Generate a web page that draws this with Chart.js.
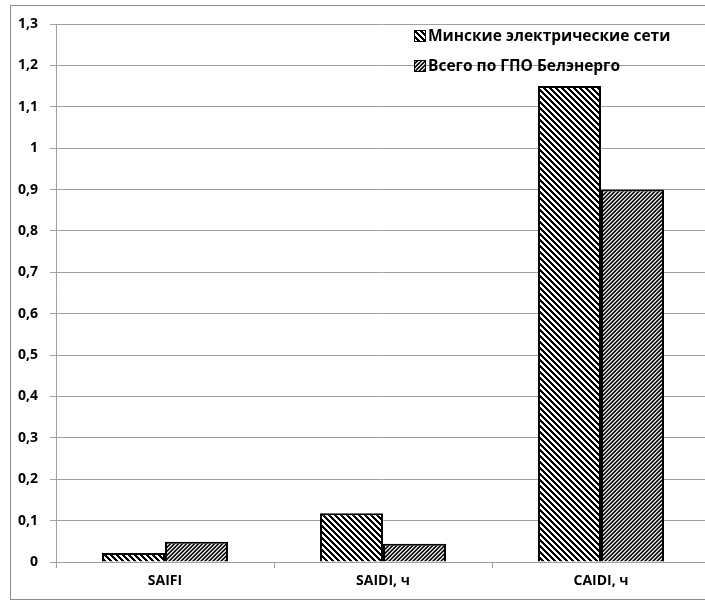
<!DOCTYPE html>
<html>
<head>
<meta charset="utf-8">
<script src="https://cdn.jsdelivr.net/npm/chart.js@4/dist/chart.umd.min.js"></script>
<style>
  html, body { margin: 0; padding: 0; background: #fff; overflow: hidden; width: 705px; height: 601px; }
  #frame { position: absolute; left: 10px; top: 5px; border: 1px solid #8c8c8c; width: 700px; height: 593px; }
  canvas { display: block; }
</style>
</head>
<body>
<div id="frame"><canvas id="c" width="700" height="593"></canvas></div>
<script>
// Reliability indices: categories and series
const categories = ['SAIFI', 'SAIDI, ч', 'CAIDI, ч'];
const seriesNames = ['Минские электрические сети', 'Всего по ГПО Белэнерго'];
const minskValues = [0.022, 0.118, 1.15];
const belenergoValues = [0.049, 0.044, 0.90];
const yMin = 0, yMax = 1.3, yStep = 0.1;

const FONT = '"Open Sans", Lato, "Liberation Sans", sans-serif';

// Hatch fills built from small pixel tiles
function makeTile(size, colorAt) {
  const t = document.createElement('canvas');
  t.width = size; t.height = size;
  const g = t.getContext('2d');
  for (let y = 0; y < size; y++) {
    for (let x = 0; x < size; x++) {
      g.fillStyle = colorAt(x, y);
      g.fillRect(x, y, 1, 1);
    }
  }
  return t;
}
const ctx = document.getElementById('c').getContext('2d');
// wide downward diagonal "\\\\"
const downTile = makeTile(6, (x, y) => (((x - y) % 6 + 6) % 6) < 3 ? '#000' : '#fff');
// dense upward diagonal "////"
const upTile = makeTile(4, (x, y) => {
  const k = (x + y) % 4;
  return k === 0 ? '#000' : k === 1 ? '#333' : k === 2 ? '#eee' : '#999';
});
const downPattern = ctx.createPattern(downTile, 'repeat');
const upPattern = ctx.createPattern(upTile, 'repeat');

function fmt(v) {
  const r = Math.round(v * 10) / 10;
  return String(r).replace('.', ',');
}

// Legend drawn inside the plot area, over the gridlines
const insideLegend = {
  id: 'insideLegend',
  afterDraw(chart) {
    const g = chart.ctx;
    const x0 = 403, rows = [30, 60];
    chart.data.datasets.forEach((ds, i) => {
      const y = rows[i];
      g.save();
      g.fillStyle = '#fff';
      g.fillRect(x0, y - 6, 12, 12);
      g.fillStyle = ds.backgroundColor;
      g.fillRect(x0, y - 6, 12, 12);
      g.strokeStyle = '#000';
      g.lineWidth = 1;
      g.strokeRect(x0 + 0.5, y - 5.5, 11, 11);
      g.fillStyle = '#000';
      g.font = 'bold 15.5px ' + FONT;
      g.textBaseline = 'middle';
      g.textAlign = 'left';
      g.fillText(ds.label, x0 + 14, y + 1);
      g.restore();
    });
  }
};

new Chart(ctx, {
  type: 'bar',
  data: {
    labels: categories,
    datasets: [
      { label: seriesNames[0], data: minskValues, backgroundColor: downPattern,
        borderColor: '#000', borderWidth: 2 },
      { label: seriesNames[1], data: belenergoValues, backgroundColor: upPattern,
        borderColor: '#000', borderWidth: 2 }
    ]
  },
  options: {
    responsive: false,
    animation: false,
    devicePixelRatio: 1,
    layout: { padding: { top: 18, right: 1, left: 0, bottom: 0 } },
    datasets: { bar: { categoryPercentage: 0.578, barPercentage: 1.0 } },
    plugins: { legend: { display: false }, tooltip: { enabled: false } },
    scales: {
      x: {
        grid: { offset: true, drawOnChartArea: false, color: '#a0a0a0', tickLength: 6 },
        border: { color: '#a0a0a0' },
        ticks: { color: '#000', font: { family: FONT, size: 14, weight: 'bold' }, padding: 5 },
        afterFit(s) { s.height = 37; }
      },
      y: {
        min: yMin, max: yMax,
        grid: { color: '#a0a0a0', tickLength: 6 },
        border: { color: '#a0a0a0' },
        ticks: { stepSize: yStep, color: '#000', padding: 12,
                 font: { family: FONT, size: 14, weight: 'bold' },
                 callback: (v) => fmt(v) },
        afterFit(s) { s.width = 45; s.paddingTop = 0; s.paddingBottom = 0; }
      }
    }
  },
  plugins: [insideLegend]
});
</script>
</body>
</html>
